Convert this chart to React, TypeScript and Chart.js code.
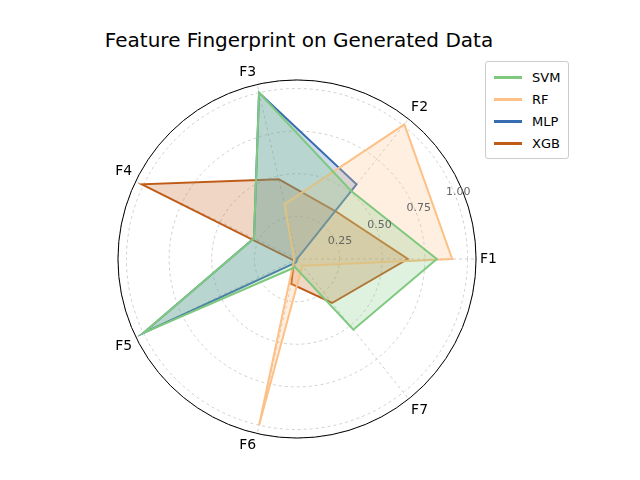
import React, { useEffect, useRef } from 'react';
import { Chart, registerables } from 'chart.js';

Chart.register(...registerables);

const features = ['F1', 'F2', 'F3', 'F4', 'F5', 'F6', 'F7'];
const svm = [0.82, 0.51, 1.0, 0.28, 1.0, 0.05, 0.53];
const rf = [0.91, 1.01, 0.33, 0.02, 0.02, 1.0, 0.05];
const mlp = [0.0, 0.56, 1.0, 0.28, 1.0, 0.02, 0.0];
const xgb = [0.65, 0.36, 0.48, 1.01, 0.02, 0.15, 0.33];
const tickLabels = [0.25, 0.5, 0.75, 1.0];

const models = [
  { name: 'SVM', data: svm, color: '127, 201, 127' },
  { name: 'RF', data: rf, color: '253, 192, 134' },
  { name: 'MLP', data: mlp, color: '56, 108, 176' },
  { name: 'XGB', data: xgb, color: '191, 91, 23' },
];

// matplotlib goes counter-clockwise, Chart.js clockwise
const order = [0, 6, 5, 4, 3, 2, 1];
const reorder = (arr: any[]) => order.map((i) => arr[i]);

const outerCircle = {
  id: 'outerCircle',
  afterDatasetsDraw(chart: any) {
    const s = chart.scales.r;
    const ctx = chart.ctx;
    ctx.save();
    ctx.beginPath();
    ctx.arc(s.xCenter, s.yCenter, s.drawingArea, 0, Math.PI * 2);
    ctx.strokeStyle = '#000';
    ctx.lineWidth = 1;
    ctx.stroke();
    // radial tick labels at ~22.5 degrees, like matplotlib
    ctx.fillStyle = '#666';
    ctx.font = '11px "DejaVu Sans"';
    ctx.textAlign = 'center';
    ctx.textBaseline = 'middle';
    const a = (22.5 * Math.PI) / 180;
    tickLabels.forEach((v) => {
      const r = s.getDistanceFromCenterForValue(v) + 4;
      ctx.fillText(v.toFixed(2), s.xCenter + r * Math.cos(a), s.yCenter - r * Math.sin(a));
    });
    ctx.restore();
  },
};

const App: React.FC = () => {
  const canvasRef = useRef<HTMLCanvasElement>(null);

  useEffect(() => {
    document.body.style.margin = '0';
    if (!canvasRef.current) return;
    const chart = new Chart(canvasRef.current, {
      type: 'radar',
      data: {
        labels: reorder(features),
        datasets: models.map((m) => ({
          label: m.name,
          data: reorder(m.data),
          borderColor: `rgb(${m.color})`,
          backgroundColor: `rgba(${m.color}, 0.25)`,
          borderWidth: 2,
          pointRadius: 0,
          fill: true,
        })),
      },
      options: {
        responsive: false,
        animation: false,
        plugins: { legend: { display: false }, tooltip: { enabled: false } },
        scales: {
          r: {
            min: 0,
            max: 1.05,
            startAngle: 90,
            ticks: { stepSize: 0.25, display: false },
            grid: { color: '#d0d0d0', circular: true },
            border: { dash: [3, 3] },
            angleLines: { color: '#d0d0d0', borderDash: [3, 3] },
            pointLabels: { color: '#000', font: { family: 'DejaVu Sans', size: 14 }, padding: 4 },
          },
        },
      },
      plugins: [outerCircle],
    } as any);
    return () => chart.destroy();
  }, []);

  return (
    <div style={{ position: 'relative', width: 640, height: 480, fontFamily: 'DejaVu Sans', background: '#fff' }}>
      <div style={{ position: 'absolute', top: 28, left: 0, width: 598, textAlign: 'center', fontSize: 20 }}>
        Feature Fingerprint on Generated Data
      </div>
      <canvas ref={canvasRef} width={400} height={400} style={{ position: 'absolute', left: 108, top: 60 }} />
      <div style={{ position: 'absolute', left: 485, top: 61, border: '1px solid #ccc', borderRadius: 3, padding: '4px 8px', fontSize: 13, background: '#fff' }}>
        {models.map((m) => (
          <div key={m.name} style={{ display: 'flex', alignItems: 'center', height: 22 }}>
            <span style={{ display: 'inline-block', width: 28, height: 3, background: `rgb(${m.color})`, marginRight: 10 }} />
            {m.name}
          </div>
        ))}
      </div>
    </div>
  );
};

export default App;
